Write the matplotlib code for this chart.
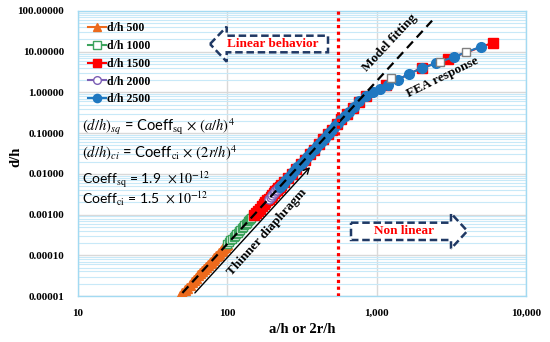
import numpy as np
import matplotlib
matplotlib.use('Agg')
import matplotlib.pyplot as plt
from matplotlib.patches import Polygon
from matplotlib.ticker import FixedLocator, FuncFormatter, LogLocator, NullFormatter

plt.rcParams['mathtext.fontset'] = 'stix'

SERIF = 'Liberation Serif'
W, H = 550, 342

# ---- data ----
orange_x = [48, 50, 52, 54, 56, 58, 60, 62, 64, 66, 68, 70, 72, 74, 76, 78,
            80, 82, 84, 86, 88, 90, 92, 94, 96, 98, 100]
orange_y = [1.009e-5, 1.188e-5, 1.389e-5, 1.616e-5, 1.869e-5, 2.150e-5,
            2.462e-5, 2.807e-5, 3.188e-5, 3.605e-5, 4.062e-5, 4.562e-5,
            5.106e-5, 5.698e-5, 6.339e-5, 7.033e-5, 7.782e-5, 8.590e-5,
            9.460e-5, 1.039e-4, 1.139e-4, 1.247e-4, 1.361e-4, 1.483e-4,
            1.614e-4, 1.752e-4, 1.900e-4]

green_x = [100, 102.5, 105, 107.5, 110, 112.5, 115, 117.5, 120, 122.5, 125,
           127.5, 130, 132.5, 135, 137.5, 140, 142.5, 145, 147.5, 150]
green_y = [1.900e-4, 2.097e-4, 2.309e-4, 2.537e-4, 2.782e-4, 3.043e-4,
           3.323e-4, 3.622e-4, 3.940e-4, 4.279e-4, 4.639e-4, 5.021e-4,
           5.427e-4, 5.856e-4, 6.311e-4, 6.792e-4, 7.299e-4, 7.834e-4,
           8.399e-4, 8.993e-4, 9.619e-4]
# open squares seen in the non-linear part
open_x = [1250, 2670, 3980]
open_y = [2.2, 5.7, 10.0]

red_x = [150, 155, 160, 165, 170, 175, 180, 185, 190, 195, 200, 205, 210,
         215, 220, 225, 230, 240, 255, 270, 290, 310, 330, 355, 380, 410,
         440, 470, 500, 540, 580, 630, 690, 760, 850, 1160, 2000, 3000, 6000]
red_y = [9.62e-4, 1.097e-3, 1.245e-3, 1.408e-3, 1.587e-3, 1.782e-3,
         1.995e-3, 2.226e-3, 2.476e-3, 2.747e-3, 3.040e-3, 3.356e-3,
         3.695e-3, 4.060e-3, 4.451e-3, 4.870e-3, 5.317e-3, 6.30e-3, 8.03e-3,
         1.01e-2, 1.34e-2, 1.76e-2, 2.25e-2, 3.02e-2, 3.96e-2, 5.37e-2,
         7.12e-2, 9.27e-2, 0.119, 0.165, 0.22, 0.30, 0.42, 0.58, 0.80, 1.5,
         4.0, 6.6, 16.6]

purple_x = [190, 195, 200, 205, 210, 215, 220, 225, 230, 235]
purple_y = [2.476e-3, 2.747e-3, 3.040e-3, 3.356e-3, 3.695e-3, 4.060e-3,
            4.451e-3, 4.870e-3, 5.317e-3, 5.79e-3]

blue_x = [225, 235, 245, 255, 265, 275, 285, 295, 305, 315, 325, 340, 355,
          370, 385, 400, 415, 430, 450, 470, 490, 510, 530, 550, 580, 610,
          650, 700, 760, 850, 950, 1050, 1200, 1400, 1650, 2000, 2500, 3300,
          5000]
blue_y = [4.87e-3, 5.79e-3, 6.846e-3, 8.03e-3, 9.370e-3, 1.087e-2,
          1.254e-2, 1.439e-2, 1.644e-2, 1.871e-2, 2.120e-2, 2.54e-2,
          3.02e-2, 3.561e-2, 4.174e-2, 4.86e-2, 5.636e-2, 6.496e-2, 7.79e-2,
          9.27e-2, 0.1095, 0.1285, 0.150, 0.18, 0.22, 0.265, 0.34, 0.45,
          0.60, 0.80, 1.02, 1.22, 1.50, 2.05, 2.9, 3.9, 5.2, 7.5, 13.3]

model_x = [50, 2350]
model_y = [1.19e-5, 58.0]

limit_x = 550

series = [
    ('d/h 500', orange_x, orange_y, '#EC6A1C', '^', 7.0, True),
    ('d/h 1000', green_x, green_y, '#3DA35D', 's', 6.0, False),
    ('d/h 1500', red_x, red_y, '#FF0000', 's', 6.5, True),
    ('d/h 2000', purple_x, purple_y, '#7B5EB4', 'o', 6.5, False),
    ('d/h 2500', blue_x, blue_y, '#1F78C1', 'o', 7.0, True),
]


def px(x, y):
    # figure pixel (from top-left) -> figure fraction
    return (x / W, 1 - y / H)


fig = plt.figure(figsize=(W / 100, H / 100), dpi=100)
ax = fig.add_axes([78 / W, 1 - 296 / H, 448 / W, 285 / H])

for label, xs, ys, col, mk, ms, filled in series:
    ax.plot(xs, ys, color=col, lw=1.5, marker=mk, ms=ms,
            mfc=col if filled else 'white', mec=col, mew=1.0,
            label=label, zorder=3)

ax.plot(open_x, open_y, ls='none', marker='s', ms=5.5, mfc='white',
        mec='#808080', mew=1.0, zorder=4)

ax.plot(model_x, model_y, color='black', lw=1.6, ls=(0, (4, 2.5)), zorder=5)
ax.axvline(limit_x, color='#FF0000', lw=2.3, ls=(0, (1, 1.1)), zorder=5)

ax.set_xscale('log')
ax.set_yscale('log')
ax.set_xlim(10, 10000)
ax.set_ylim(1e-5, 100)

ax.yaxis.set_major_locator(FixedLocator([1e-5, 1e-4, 1e-3, 1e-2, 1e-1, 1, 10, 100]))
ax.yaxis.set_minor_locator(LogLocator(base=10, subs=np.arange(2, 10), numticks=20))
ax.yaxis.set_minor_formatter(NullFormatter())
ax.yaxis.set_major_formatter(FuncFormatter(lambda v, p: '{:.5f}'.format(v)))
ax.xaxis.set_major_locator(FixedLocator([10, 100, 1000, 10000]))
ax.xaxis.set_minor_locator(FixedLocator([]))
ax.xaxis.set_major_formatter(FuncFormatter(lambda v, p: '{:,}'.format(int(round(v)))))

ax.grid(which='minor', axis='y', color='#C8E9F8', lw=0.8, zorder=0)
ax.grid(which='major', axis='both', color='#D9D9D9', lw=1.0, zorder=0)
ax.set_axisbelow(True)
for s in ax.spines.values():
    s.set_color('#A3DAF2')
    s.set_linewidth(1.0)
ax.tick_params(which='both', length=0)
ax.tick_params(axis='y', pad=10)
ax.tick_params(axis='x', pad=9)
for t in ax.get_xticklabels() + ax.get_yticklabels():
    t.set_fontfamily(SERIF)
    t.set_fontweight('bold')
    t.set_fontsize(8)

ax.set_xlabel('a/h or 2r/h', fontfamily=SERIF, fontweight='bold', fontsize=10.5,
              labelpad=4)
ax.set_ylabel('d/h', fontfamily=SERIF, fontweight='bold', fontsize=10.5)
ax.yaxis.set_label_coords(-0.125, 0.488)

leg = ax.legend(loc='upper left', bbox_to_anchor=(0.022, 0.962), frameon=False,
                borderpad=0, borderaxespad=0, handlelength=1.5,
                handletextpad=0.1, labelspacing=0.5, markerscale=0.85,
                prop={'family': SERIF, 'weight': 'bold', 'size': 8.5})

# equations
eq_kw = dict(fontfamily='Lato', fontsize=10.5, ha='left', va='center')
fig.text(*px(82, 127), r'$(d/h)_{sq}$ = Coeff$_{\rm sq}$ $\times$ $(a/h)^4$', **eq_kw)
fig.text(*px(82, 153), r'$(d/h)_{ci}$ = Coeff$_{\rm ci}$ $\times$ $(2r/h)^4$', **eq_kw)
eq_kw['fontsize'] = 10
fig.text(*px(82, 180), r'Coeff$_{\rm sq}$ = 1.9  $\times\,10^{-12}$', **eq_kw)
fig.text(*px(82, 199), r'Coeff$_{\rm ci}$ = 1.5  $\times\,10^{-12}$', **eq_kw)

# arrow boxes
navy = '#1F3864'
lin_box = [(210, 44), (226.7, 26.7), (226.7, 35.7), (328, 35.7), (328, 52.3),
           (226.7, 52.3), (226.7, 61.7)]
non_box = [(351, 222.7), (451, 222.7), (451, 213.3), (467.3, 231), (451, 248.7),
           (451, 240), (351, 240)]
for pts in (lin_box, non_box):
    fig.patches.append(Polygon([px(a, b) for a, b in pts], closed=True,
                               transform=fig.transFigure, facecolor='white',
                               edgecolor=navy, lw=1.8, ls=(0, (3, 1.5)),
                               zorder=6))
fig.text(*px(273, 44), 'Linear behavior', color='#FF0000', fontfamily=SERIF,
         fontweight='bold', fontsize=9.5, ha='center', va='center', zorder=7)
fig.text(*px(404, 231), 'Non linear', color='#FF0000', fontfamily=SERIF,
         fontweight='bold', fontsize=9.5, ha='center', va='center', zorder=7)

# rotated notes
fig.text(*px(390, 43), 'Model fitting', rotation=47, fontfamily=SERIF,
         fontweight='bold', fontsize=9.5, ha='center', va='center')
fig.text(*px(443, 77), 'FEA response', rotation=26, fontfamily=SERIF,
         fontweight='bold', fontsize=9.5, ha='center', va='center')
fig.text(*px(267, 232), 'Thinner diaphragm', rotation=48, fontfamily=SERIF,
         fontweight='bold', fontsize=9.5, ha='center', va='center')
ax.annotate('', xy=px(312, 165), xytext=px(193, 295),
            xycoords='figure fraction', textcoords='figure fraction',
            arrowprops=dict(arrowstyle='->', color='black', lw=1.0))

fig.savefig('out.png', dpi=100)
